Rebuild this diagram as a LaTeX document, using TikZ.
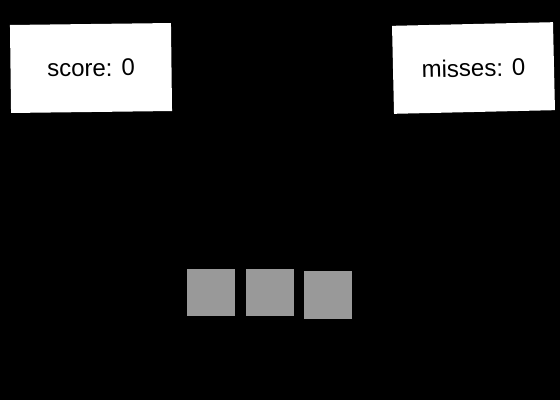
\documentclass[tikz,border=0pt]{standalone}
\usepackage{fontspec}
\setmainfont{Liberation Sans}
\usepackage{tikz}
\definecolor{tile}{RGB}{153, 153, 153}
\tikzset{
  scorebox/.style={fill=white, inner sep=0pt, minimum width=161pt, minimum height=88pt, font=\fontsize{24}{27}\selectfont},
  brick/.style={fill=tile, inner sep=0pt, minimum width=48pt, minimum height=47pt}
}

\begin{document}
\begin{tikzpicture}[x=1pt, y=-1pt]
  \fill[color=black] (0, 0) rectangle (560, 400);
  \useasboundingbox (0, 0) rectangle (560, 400);
  \node[scorebox, rotate=0.7] (score) at (91, 68) {score: 0};
  \node[scorebox, rotate=1.3] (misses) at (473.5, 68) {misses: 0};
  \node[brick] (b1) at (211, 292.3) {};
  \node[brick] (b2) at (270, 292.8) {};
  \node[brick, minimum height=48pt] (b3) at (328, 295) {};
\end{tikzpicture}
\end{document}
